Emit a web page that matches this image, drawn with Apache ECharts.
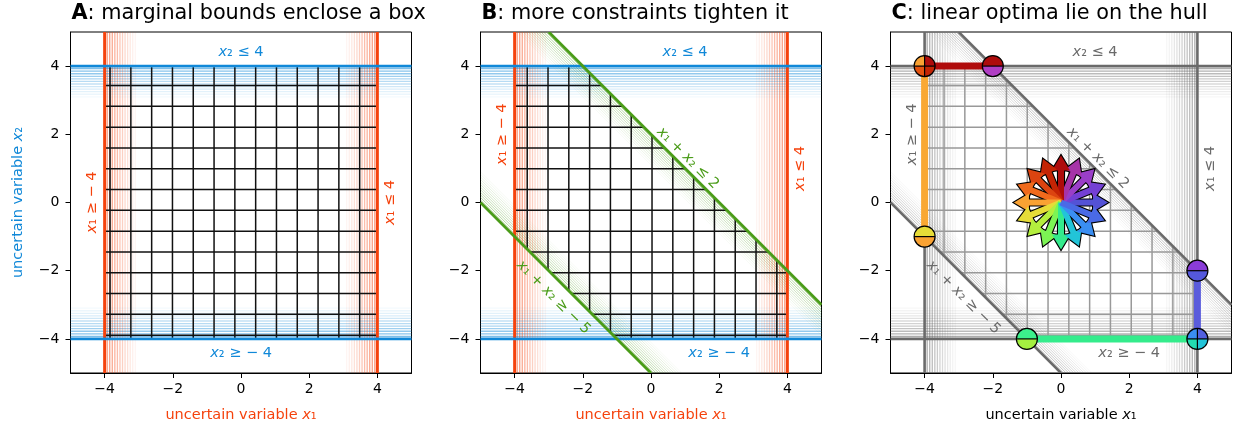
<!DOCTYPE html>
<html lang="en">
<head>
<meta charset="UTF-8">
<title>Uncertainty sets</title>
<script src="https://cdn.jsdelivr.net/npm/echarts@6/dist/echarts.min.js"></script>
<style>
  body { margin: 0; background: #fff; }
  #chart { width: 1233px; height: 429px; }
</style>
</head>
<body>
<div id="chart"></div>
<script>
    const ticks = [-4, -2, 0, 2, 4];
    const axisMin = -5, axisMax = 5;

    // bounds: box on each variable, and two bounds on x1 + x2
    const boxLo = -4, boxHi = 4;
    const sumLo = -5, sumHi = 2;

    // corners of the feasible hull (panels B and C)
    const hullX = [-4, -2, 4, 4, -1, -4];
    const hullY = [4, 4, -2, -4, -4, -1];

    // hatch lines inside the feasible set
    const hatchRows = [3.43, 2.82, 2.21, 1.60, 0.99, 0.38, -0.23, -0.84, -1.45, -2.06, -2.67, -3.28, -3.89];
    const hatchColsA = [-3.84, -3.23, -2.62, -2.01, -1.40, -0.79, -0.18, 0.43, 1.04, 1.65, 2.26, 2.87, 3.48];
    const hatchColsB = [-3.63, -3.02, -2.41, -1.80, -1.19, -0.58, 0.03, 0.64, 1.25, 1.86, 2.47, 3.08, 3.69];
    const hatchColsC = [-3.43, -2.82, -2.21, -1.60, -0.99, -0.38, 0.23, 0.84, 1.45, 2.06, 2.67, 3.28, 3.89];

    // faded copies of each bound, stepping into the feasible side
    const fadeSteps = [0.075, 0.15, 0.225, 0.3, 0.375, 0.45, 0.525, 0.6, 0.675, 0.75, 0.825, 0.9];
    const fadeAlpha = [0.55, 0.5, 0.45, 0.4, 0.35, 0.3, 0.25, 0.2, 0.16, 0.12, 0.08, 0.05];

    // objective directions drawn as a star in panel C
    const arrowAngles = [0, 22.5, 45, 67.5, 90, 112.5, 135, 157.5, 180, 202.5, 225, 247.5, 270, 292.5, 315, 337.5];
    const arrowColors = ['#5452d6', '#7440d4', '#9a3ec8', '#a634a8', '#ae0c0c', '#c42404', '#dc4410', '#f06a1c',
                         '#f9a233', '#e6dc38', '#b4ef3e', '#7cf454', '#34ea8c', '#22c4d8', '#3a8ef2', '#4a6ae6'];
    const arrowLength = 1.38;

    // optimal edges and the colours of the optimal vertices (top/bottom halves or TL,TR,BL,BR quarters)
    const edgeFrom = [[-4, 4], [-4, 4], [-1, -4], [4, -4]];
    const edgeTo = [[-2, 4], [-4, -1], [4, -4], [4, -2]];
    const edgeColors = ['#b00c0c', '#f9a833', '#34ec8c', '#5a5cdc'];
    const vertexFill = [
      ['#f9a233', '#ae0c0c', '#e4520f', '#c42404'],
      ['#ae0c0c', '#b03ec4'],
      ['#8a3cd8', '#5458dc'],
      ['#3a8ef2', '#5260e0', '#22dcb0', '#22c4d8'],
      ['#3cf08c', '#a4f040'],
      ['#e6dc38', '#f9a233']
    ];

    const FONT = 'DejaVu Sans';
    const RED = '#f5420c', BLUE = '#1088d8', GREEN = '#4a9c18', GRAY = '#6a6a6a';

    const labelsA = [
      ['{i|x}₂ ≤ 4', 0, 4.42, 0, 'y'],
      ['{i|x}₂ ≥ − 4', 0, -4.42, 0, 'y'],
      ['{i|x}₁ ≥ − 4', -4.36, 0, 90, 'x'],
      ['{i|x}₁ ≤ 4', 4.37, 0, 90, 'x']
    ];
    const labelsB = [
      ['{i|x}₂ ≤ 4', 1, 4.42, 0, 'y'],
      ['{i|x}₂ ≥ − 4', 2, -4.42, 0, 'y'],
      ['{i|x}₁ ≥ − 4', -4.36, 2, 90, 'x'],
      ['{i|x}₁ ≤ 4', 4.37, 1, 90, 'x'],
      ['{i|x}₁ + {i|x}₂ ≤ 2', 1.08, 1.3, -45, 'd'],
      ['{i|x}₁ + {i|x}₂ ≥ − 5', -2.86, -2.78, -45, 'd']
    ];

    function clipDiag(c) {
      const xa = Math.max(axisMin, c - axisMax), xb = Math.min(axisMax, c - axisMin);
      return [xa, c - xa, xb, c - xb];
    }

    function buildSegs(cols, useDiag, pal, hatchColor, hatchWidth) {
      const segs = [];
      const push = (x1, y1, x2, y2, c, w, o) => segs.push({ x1, y1, x2, y2, c, w, o });
      fadeSteps.forEach((s, k) => {
        const o = fadeAlpha[k];
        push(boxLo + s, axisMin, boxLo + s, axisMax, pal.x, 1.3, o);
        push(boxHi - s, axisMin, boxHi - s, axisMax, pal.x, 1.3, o);
        push(axisMin, boxLo + s, axisMax, boxLo + s, pal.y, 1.3, o);
        push(axisMin, boxHi - s, axisMax, boxHi - s, pal.y, 1.3, o);
        if (useDiag) {
          push(...clipDiag(sumHi - s), pal.d, 1.0, o * 0.8);
          push(...clipDiag(sumLo + s), pal.d, 1.0, o * 0.8);
        }
      });
      hatchRows.forEach(y => {
        const lo = useDiag ? Math.max(boxLo, sumLo - y) : boxLo;
        const hi = useDiag ? Math.min(boxHi, sumHi - y) : boxHi;
        if (hi > lo) push(lo, y, hi, y, hatchColor, hatchWidth, 1);
      });
      cols.forEach(x => {
        const lo = useDiag ? Math.max(boxLo, sumLo - x) : boxLo;
        const hi = useDiag ? Math.min(boxHi, sumHi - x) : boxHi;
        if (hi > lo) push(x, lo, x, hi, hatchColor, hatchWidth, 1);
      });
      const mw = pal.x === GRAY ? 2.6 : 2.9;
      push(boxLo, axisMin, boxLo, axisMax, pal.x, mw, 1);
      push(boxHi, axisMin, boxHi, axisMax, pal.x, mw, 1);
      push(axisMin, boxLo, axisMax, boxLo, pal.y, mw, 1);
      push(axisMin, boxHi, axisMax, boxHi, pal.y, mw, 1);
      if (useDiag) {
        push(...clipDiag(sumHi), pal.d, mw, 1);
        push(...clipDiag(sumLo), pal.d, mw, 1);
      }
      return segs;
    }

    function segSeries(gi, segs) {
      return {
        type: 'custom', xAxisIndex: gi, yAxisIndex: gi, silent: true, clip: true, z: 2,
        data: segs.map(s => [s.x1, s.y1, s.x2, s.y2]),
        renderItem: (p, api) => {
          const s = segs[p.dataIndex];
          const a = api.coord([s.x1, s.y1]), b = api.coord([s.x2, s.y2]);
          return {
            type: 'line',
            shape: { x1: a[0], y1: a[1], x2: b[0], y2: b[1] },
            style: { stroke: s.c, lineWidth: s.w, opacity: s.o, lineCap: 'butt' }
          };
        }
      };
    }

    function labelSeries(gi, labels, pal) {
      return {
        type: 'custom', xAxisIndex: gi, yAxisIndex: gi, silent: true, clip: false, z: 10,
        data: labels.map(l => [l[1], l[2]]),
        renderItem: (p, api) => {
          const l = labels[p.dataIndex];
          const c = api.coord([l[1], l[2]]);
          const col = pal[l[4]];
          return {
            type: 'text', x: c[0], y: c[1], rotation: l[3] * Math.PI / 180,
            style: {
              text: l[0], fill: col, fontSize: 14.5, fontFamily: FONT,
              align: 'center', verticalAlign: 'middle',
              rich: { i: { fontStyle: 'italic', fontSize: 14.5, fontFamily: FONT, fill: col } }
            }
          };
        }
      };
    }

    function arrowPoly(api, ang) {
      const o = api.coord([0, 0]);
      const r = ang * Math.PI / 180;
      const t = api.coord([arrowLength * Math.cos(r), arrowLength * Math.sin(r)]);
      const len = Math.hypot(t[0] - o[0], t[1] - o[1]);
      const ux = (t[0] - o[0]) / len, uy = (t[1] - o[1]) / len;
      const nx = -uy, ny = ux;
      const hw = 3, HW = 9, hl = 15;
      const bx = t[0] - ux * hl, by = t[1] - uy * hl;
      return [
        [o[0] + nx * hw, o[1] + ny * hw], [bx + nx * hw, by + ny * hw], [bx + nx * HW, by + ny * HW],
        [t[0], t[1]],
        [bx - nx * HW, by - ny * HW], [bx - nx * hw, by - ny * hw], [o[0] - nx * hw, o[1] - ny * hw]
      ];
    }

    function arrowSeries(pass) {
      return {
        type: 'custom', xAxisIndex: 2, yAxisIndex: 2, silent: true, z: 6 + pass,
        data: arrowAngles.map(a => [0, 0]),
        renderItem: (p, api) => ({
          type: 'polygon',
          shape: { points: arrowPoly(api, arrowAngles[p.dataIndex]) },
          style: pass === 0
            ? { fill: '#fff', stroke: '#000', lineWidth: 2.2, lineJoin: 'miter' }
            : { fill: arrowColors[p.dataIndex], stroke: null }
        })
      };
    }

    const vertexSeries = {
      type: 'custom', xAxisIndex: 2, yAxisIndex: 2, silent: true, z: 8,
      data: hullX.map((x, i) => [x, hullY[i]]),
      renderItem: (p, api) => {
        const c = api.coord([hullX[p.dataIndex], hullY[p.dataIndex]]);
        const fill = vertexFill[p.dataIndex];
        const R = 10.5, PI = Math.PI;
        const spans = fill.length === 4
          ? [[PI, 1.5 * PI], [1.5 * PI, 2 * PI], [0.5 * PI, PI], [0, 0.5 * PI]]
          : [[PI, 2 * PI], [0, PI]];
        const children = spans.map((s, k) => ({
          type: 'sector',
          shape: { cx: c[0], cy: c[1], r: R, r0: 0, startAngle: s[0], endAngle: s[1], clockwise: true },
          style: { fill: fill[k], stroke: null }
        }));
        children.push({ type: 'line', shape: { x1: c[0] - R, y1: c[1], x2: c[0] + R, y2: c[1] }, style: { stroke: '#000', lineWidth: 1.2 } });
        if (fill.length === 4) {
          children.push({ type: 'line', shape: { x1: c[0], y1: c[1] - R, x2: c[0], y2: c[1] + R }, style: { stroke: '#000', lineWidth: 1.2 } });
        }
        children.push({ type: 'circle', shape: { cx: c[0], cy: c[1], r: R }, style: { fill: null, stroke: '#000', lineWidth: 1.2 } });
        return { type: 'group', children };
      }
    };

    const palA = { x: RED, y: BLUE, d: GREEN };
    const palC = { x: GRAY, y: GRAY, d: GRAY };

    const segsA = buildSegs(hatchColsA, false, palA, '#111', 1.5);
    const segsB = buildSegs(hatchColsB, true, palA, '#111', 1.5);
    const segsC = buildSegs(hatchColsC, true, palC, '#999', 1.5);
    edgeFrom.forEach((f, i) => {
      segsC.push({ x1: f[0], y1: f[1], x2: edgeTo[i][0], y2: edgeTo[i][1], c: edgeColors[i], w: 7, o: 1 });
    });

    const lefts = [70.5, 480.5, 890.5];
    const titles = ['{b|A}: marginal bounds enclose a box', '{b|B}: more constraints tighten it', '{b|C}: linear optima lie on the hull'];
    const fmt = v => (v < 0 ? '\u2212' + (-v) : String(v));

    const chart = echarts.init(document.getElementById('chart'), null, { renderer: 'canvas' });
    chart.setOption({
      animation: false,
      backgroundColor: '#fff',
      grid: lefts.map(l => ({ left: l, top: 32, width: 341, height: 341, show: true, borderColor: '#000', borderWidth: 1, containLabel: false })),
      xAxis: lefts.map((l, i) => ({
        gridIndex: i, type: 'value', min: axisMin, max: axisMax,
        axisLine: { show: true, onZero: false, lineStyle: { color: '#000', width: 1 } },
        axisTick: { show: true, customValues: ticks, length: 5, lineStyle: { color: '#000', width: 1 } },
        axisLabel: { customValues: ticks, formatter: fmt, color: '#000', fontSize: 14, fontFamily: FONT, margin: 9 },
        splitLine: { show: false },
        name: 'uncertain variable {i|x}₁', nameLocation: 'middle', nameGap: 35,
        nameTextStyle: {
          color: i < 2 ? RED : '#000', fontSize: 14.5, fontFamily: FONT,
          rich: { i: { fontStyle: 'italic', fontSize: 14.5, fontFamily: FONT, color: i < 2 ? RED : '#000' } }
        }
      })),
      yAxis: lefts.map((l, i) => ({
        gridIndex: i, type: 'value', min: axisMin, max: axisMax,
        axisLine: { show: true, onZero: false, lineStyle: { color: '#000', width: 1 } },
        axisTick: { show: true, customValues: ticks, length: 5, lineStyle: { color: '#000', width: 1 } },
        axisLabel: { customValues: ticks, formatter: fmt, color: '#000', fontSize: 14, fontFamily: FONT, margin: 11 },
        splitLine: { show: false },
        name: i === 0 ? 'uncertain variable {i|x}₂' : '', nameLocation: 'middle', nameGap: 45,
        nameTextStyle: {
          color: BLUE, fontSize: 14.5, fontFamily: FONT,
          rich: { i: { fontStyle: 'italic', fontSize: 14.5, fontFamily: FONT, color: BLUE } }
        }
      })),
      graphic: titles.map((t, i) => ({
        type: 'text', x: lefts[i] + 1, y: 14,
        style: {
          text: t, fill: '#000', fontSize: 20.8, fontFamily: FONT, align: 'left', verticalAlign: 'middle',
          rich: { b: { fontWeight: 'bold', fontSize: 20.8, fontFamily: FONT, fill: '#000' } }
        }
      })),
      series: [
        segSeries(0, segsA),
        labelSeries(0, labelsA, palA),
        segSeries(1, segsB),
        labelSeries(1, labelsB, palA),
        segSeries(2, segsC),
        labelSeries(2, labelsB, palC),
        arrowSeries(0),
        arrowSeries(1),
        vertexSeries
      ]
    });
</script>
</body>
</html>
